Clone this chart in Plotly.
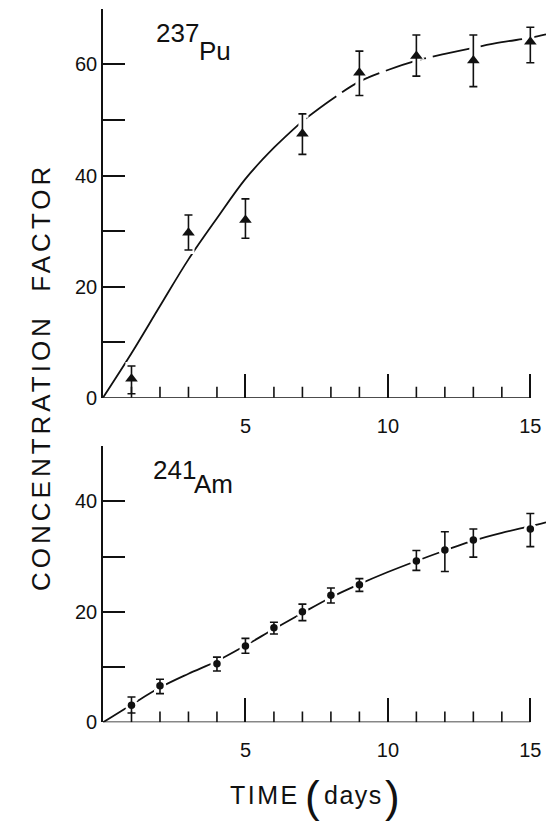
import plotly.graph_objects as go

# ---- data ----
pu_days = [1, 3, 5, 7, 9, 11, 13, 15]
pu_cf = [3.4, 29.7, 32.0, 47.5, 58.5, 61.5, 60.7, 64.1]
pu_err_up = [2.3, 3.2, 3.8, 3.6, 3.9, 3.8, 4.6, 2.6]
pu_err_dn = [2.7, 3.1, 3.3, 3.7, 4.1, 3.6, 4.7, 3.8]

pu_fit_days = [0, 1, 2, 3, 4, 5, 6, 7, 8, 9, 10, 11, 12, 13, 14, 15, 15.55]
pu_fit_cf = [0, 8.0, 16.5, 24.9, 32.3, 39.4, 45.0, 49.8, 53.6, 56.9, 59.0,
             60.7, 61.9, 63.0, 64.0, 64.8, 65.4]

am_days = [1, 2, 4, 5, 6, 7, 8, 9, 11, 12, 13, 15]
am_cf = [3.1, 6.6, 10.6, 13.8, 17.1, 20.0, 23.0, 24.9, 29.2, 31.2, 33.0, 35.0]
am_err_up = [1.5, 1.2, 1.2, 1.4, 1.0, 1.4, 1.3, 1.1, 1.9, 3.3, 2.0, 2.8]
am_err_dn = [1.4, 1.4, 1.3, 1.3, 1.1, 1.6, 1.4, 1.2, 1.7, 3.9, 3.1, 3.2]

am_fit_days = [0, 1, 2, 3, 4, 5, 6, 7, 8, 9, 10, 11, 12, 13, 14, 15, 15.55]
am_fit_cf = [0, 3.2, 6.3, 8.8, 11.1, 13.9, 16.9, 19.8, 22.6, 25.0, 27.2,
             29.2, 31.1, 32.9, 34.3, 35.5, 36.2]

x_major = [5, 10, 15]
x_minor = [1, 2, 3, 4, 6, 7, 8, 9, 11, 12, 13, 14]
pu_yticks = [0, 10, 20, 30, 40, 50, 60, 70]
pu_ylabels = ["0", "", "20", "", "40", "", "60", ""]
am_yticks = [0, 10, 20, 30, 40, 50]
am_ylabels = ["0", "", "20", "", "40", ""]

W, H = 546, 834
FONT = "Liberation Sans, Arial, sans-serif"
INK = "#111111"
XRANGE = [0, 15.55]
PU_YRANGE = [0, 70]
AM_YRANGE = [0, 50]
PU_TOP, PU_BOT = 9, 403      # pixel rows of the top panel
AM_TOP, AM_BOT = 452, 732    # pixel rows of the bottom panel
MINOR_TICK_PX = 11


def px(x):
    return x / W


def py(y):
    return 1 - y / H


def minor_tick_trace(xa, ya, yrange, top, bot):
    # short upward minor ticks on the x axis, drawn as separated line segments
    units = MINOR_TICK_PX * (yrange[1] - yrange[0]) / (bot - top)
    xs, ys = [], []
    for v in x_minor:
        xs += [v, v, None]
        ys += [0, units, None]
    return go.Scatter(x=xs, y=ys, mode="lines", connectgaps=False,
                      line=dict(color=INK, width=1.6),
                      xaxis=xa, yaxis=ya, showlegend=False, hoverinfo="skip")


fig = go.Figure()

# ---- top panel (237Pu) ----
pu_split = pu_fit_days.index(7)
fig.add_trace(go.Scatter(x=pu_fit_days[:pu_split + 1], y=pu_fit_cf[:pu_split + 1],
                         mode="lines", line=dict(color=INK, width=1.8, shape="spline"),
                         xaxis="x", yaxis="y", showlegend=False, hoverinfo="skip"))
fig.add_trace(go.Scatter(x=pu_fit_days[pu_split:], y=pu_fit_cf[pu_split:],
                         mode="lines", line=dict(color=INK, width=1.8, shape="spline",
                                                 dash="42px,7px"),
                         xaxis="x", yaxis="y", showlegend=False, hoverinfo="skip"))
# white halo so the curve breaks where it meets the points
fig.add_trace(go.Scatter(x=pu_days, y=pu_cf, mode="markers",
                         marker=dict(symbol="triangle-up", size=15, color="white"),
                         error_y=dict(type="data", array=pu_err_up, arrayminus=pu_err_dn,
                                      color="white", thickness=8, width=6),
                         xaxis="x", yaxis="y", showlegend=False, hoverinfo="skip"))
fig.add_trace(minor_tick_trace("x", "y", PU_YRANGE, PU_TOP, PU_BOT))
fig.add_trace(go.Scatter(x=pu_days, y=pu_cf, mode="markers",
                         marker=dict(symbol="triangle-up", size=11, color=INK),
                         error_y=dict(type="data", array=pu_err_up, arrayminus=pu_err_dn,
                                      color=INK, thickness=1.6, width=4),
                         xaxis="x", yaxis="y", showlegend=False))

# ---- bottom panel (241Am) ----
fig.add_trace(go.Scatter(x=am_fit_days, y=am_fit_cf, mode="lines",
                         line=dict(color=INK, width=1.8, shape="spline"),
                         xaxis="x2", yaxis="y2", showlegend=False, hoverinfo="skip"))
fig.add_trace(go.Scatter(x=am_days, y=am_cf, mode="markers",
                         marker=dict(symbol="circle", size=13, color="white"),
                         error_y=dict(type="data", array=am_err_up, arrayminus=am_err_dn,
                                      color="white", thickness=8, width=6),
                         xaxis="x2", yaxis="y2", showlegend=False, hoverinfo="skip"))
fig.add_trace(minor_tick_trace("x2", "y2", AM_YRANGE, AM_TOP, AM_BOT))
fig.add_trace(go.Scatter(x=am_days, y=am_cf, mode="markers",
                         marker=dict(symbol="circle", size=7.5, color=INK),
                         error_y=dict(type="data", array=am_err_up, arrayminus=am_err_dn,
                                      color=INK, thickness=1.6, width=4),
                         xaxis="x2", yaxis="y2", showlegend=False))

xdom = [px(103), 1]
common_x = dict(range=XRANGE, domain=xdom, tickmode="array", tickvals=x_major,
                ticktext=[str(v) for v in x_major], ticks="inside", ticklen=24,
                tickwidth=1.6, tickcolor=INK, showline=True, linewidth=1,
                linecolor="rgba(0,0,0,0)", showgrid=False,
                zeroline=False, tickfont=dict(family=FONT, size=20, color=INK),
                ticklabelstandoff=10, fixedrange=True)
common_y = dict(tickmode="array", ticks="inside", ticklen=22, tickwidth=1.6,
                tickcolor=INK, showline=True, linewidth=1.6, linecolor=INK,
                showgrid=False, zeroline=False,
                tickfont=dict(family=FONT, size=20, color=INK), fixedrange=True)

fig.update_layout(
    width=W, height=H, margin=dict(l=0, r=0, t=0, b=0),
    paper_bgcolor="white", plot_bgcolor="white",
    xaxis=dict(anchor="y", **common_x),
    yaxis=dict(anchor="x", domain=[py(PU_BOT), py(PU_TOP)], range=PU_YRANGE,
               tickvals=pu_yticks, ticktext=pu_ylabels, **common_y),
    xaxis2=dict(anchor="y2", **common_x),
    yaxis2=dict(anchor="x2", domain=[py(AM_BOT), py(AM_TOP)], range=AM_YRANGE,
                tickvals=am_yticks, ticktext=am_ylabels, **common_y),
    shapes=[
        dict(type="line", xref="x", yref="y", x0=0, x1=x_major[-1], y0=0, y1=0,
             line=dict(color=INK, width=1.6)),
        dict(type="line", xref="x2", yref="y2", x0=0, x1=x_major[-1], y0=0, y1=0,
             line=dict(color=INK, width=1.6)),
    ],
)

ann_font = dict(family=FONT, size=26, color=INK)
annotations = [
    dict(text="237", x=px(154), y=py(33), xanchor="left", yanchor="middle", font=ann_font),
    dict(text="Pu", x=px(197), y=py(52), xanchor="left", yanchor="middle", font=ann_font),
    dict(text="241", x=px(151), y=py(476), xanchor="left", yanchor="middle", font=ann_font),
    dict(text="Am", x=px(192), y=py(490), xanchor="left", yanchor="middle", font=ann_font),
    dict(text='<span style="letter-spacing:4px">CONCENTRATION  FACTOR</span>',
         x=px(41), y=py(382), xanchor="center", yanchor="middle", textangle=-90,
         font=dict(family=FONT, size=26, color=INK)),
    dict(text='<span style="letter-spacing:2.5px">TIME</span>', x=px(265), y=py(806),
         xanchor="center", yanchor="middle", font=dict(family=FONT, size=25, color=INK)),
    dict(text="(", x=px(312), y=py(807), xanchor="center", yanchor="middle",
         font=dict(family=FONT, size=44, color=INK)),
    dict(text='<span style="letter-spacing:1.5px">days</span>', x=px(353), y=py(806),
         xanchor="center", yanchor="middle", font=dict(family=FONT, size=25, color=INK)),
    dict(text=")", x=px(392), y=py(807), xanchor="center", yanchor="middle",
         font=dict(family=FONT, size=44, color=INK)),
]
for a in annotations:
    a.update(xref="paper", yref="paper", showarrow=False)
fig.update_layout(annotations=annotations)

fig.write_html("out.html")
